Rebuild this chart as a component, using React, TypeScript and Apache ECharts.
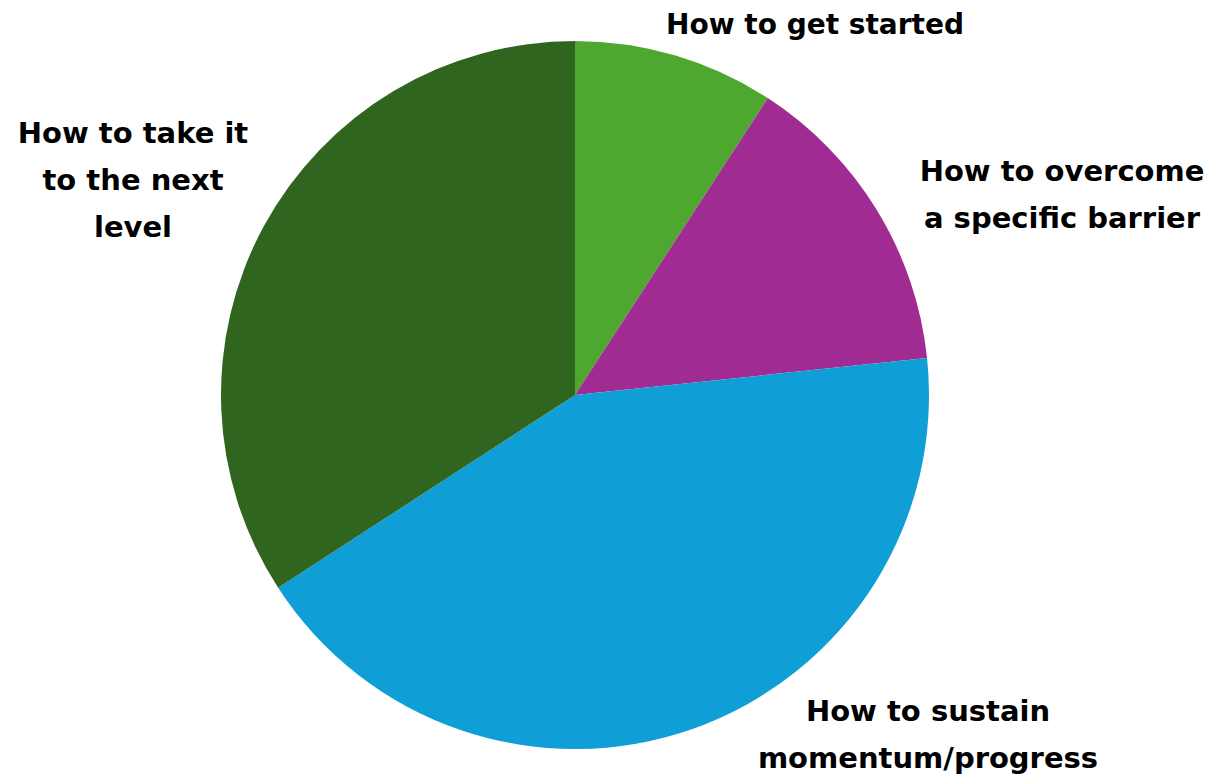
import React, { useEffect, useRef } from "react";
import * as echarts from "echarts";

const categories = [
  "How to get started",
  "How to overcome a specific barrier",
  "How to sustain momentum/progress",
  "How to take it to the next level",
];
const labelLines = [
  "How to get started",
  "How to overcome\na specific barrier",
  "How to sustain\nmomentum/progress",
  "How to take it\nto the next\nlevel",
];
const values = [11, 17, 51, 41];
const colors = ["#4EA72E", "#A02B93", "#0F9ED5", "#2F651E"];
const labelPos = [
  [815, 24],
  [1062, 194],
  [928, 734],
  [133, 180],
];
const labelSizes = [28, 29, 29, 29];

export default function App() {
  const ref = useRef<HTMLDivElement>(null);
  useEffect(() => {
    if (!ref.current) return;
    const chart = echarts.init(ref.current, null, { renderer: "svg" });
    chart.setOption({
      animation: false,
      backgroundColor: "#ffffff",
      series: [
        {
          type: "pie",
          center: [575, 395],
          radius: 354,
          startAngle: 90,
          clockwise: true,
          avoidLabelOverlap: false,
          data: categories.map((c, i) => ({
            name: c,
            value: values[i],
            itemStyle: { color: colors[i] },
            label: { fontSize: labelSizes[i] },
          })),
          itemStyle: { borderWidth: 0 },
          label: {
            show: true,
            formatter: (p: any) => labelLines[p.dataIndex],
            fontFamily: "DejaVu Sans",
            fontWeight: "bold",
            fontSize: 29,
            lineHeight: 47,
            color: "#000000",
            overflow: "none",
            width: 400,
          },
          labelLine: { show: false },
          labelLayout: (p: any) => ({
            x: labelPos[p.dataIndex][0],
            y: labelPos[p.dataIndex][1],
            align: "center",
            verticalAlign: "middle",
          }),
        },
      ],
    });
    return () => chart.dispose();
  }, []);
  return (
    <div
      ref={ref}
      style={{ position: "fixed", left: 0, top: 0, width: 1226, height: 775 }}
    />
  );
}
